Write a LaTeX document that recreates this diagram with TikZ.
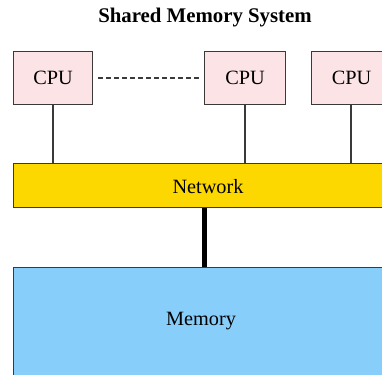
\documentclass[tikz,border=0pt]{standalone}
\usepackage{fontspec}
\setmainfont{Liberation Serif}
\usetikzlibrary{positioning}
\definecolor{cpufill}{HTML}{FCE4E6}
\definecolor{netfill}{HTML}{FCD700}
\definecolor{memfill}{HTML}{87CEFA}
\definecolor{edge}{HTML}{3A3A3A}
\tikzset{
    box/.style={
        draw=edge,
        line width=0.6pt,
        anchor=north west,
        inner sep=0pt
    },
    cpubox/.style={
        box,
        fill=cpufill,
        minimum width=79\unitlength,
        minimum height=53\unitlength,
        font=\fontsize{11.5}{13}\selectfont
    },
    link/.style={
        draw=edge,
        line width=0.6pt
    },
    boxlabel/.style={
        font=\fontsize{11.5}{13}\selectfont
    },
    titlelabel/.style={
        font=\fontsize{11.8}{13}\selectfont\bfseries
    }
}
\setlength{\unitlength}{0.567pt}

\begin{document}
\begin{tikzpicture}[x=\unitlength,y=-\unitlength]

    \useasboundingbox (0,0) rectangle (382,375);
    \clip (0,0) rectangle (382,375);

    % Titre
    \node[titlelabel] (title) at (205,18) {Shared Memory System};

    % Processeurs
    \node[cpubox] (cpuA) at (13,51) {CPU};
    \node[cpubox,minimum width=81\unitlength] (cpuB) at (204,51) {CPU};
    \node[cpubox,minimum width=80\unitlength] (cpuC) at (311,51) {CPU};

    % Reseau
    \node[
        box,
        fill=netfill,
        minimum width=372\unitlength,
        minimum height=44\unitlength
    ]
        (network) at (13,163) {};
    \node[boxlabel] (netlabel) at (208,187) {Network};

    % Memoire
    \node[
        box,
        fill=memfill,
        minimum width=372\unitlength,
        minimum height=112\unitlength
    ]
        (memory) at (13,267) {};
    \node[boxlabel] (memlabel) at (201,321) {Memory};

    % Liaisons
    \draw[link] ([xshift=40\unitlength]cpuA.south west)
        -- ([xshift=40\unitlength]cpuA.south west |- network.north);
    \draw[link] ([xshift=41\unitlength]cpuB.south west)
        -- ([xshift=41\unitlength]cpuB.south west |- network.north);
    \draw[link] ([xshift=40\unitlength]cpuC.south west)
        -- ([xshift=40\unitlength]cpuC.south west |- network.north);

    \draw[link,dashed,dash pattern=on 5\unitlength off 3\unitlength]
        ([xshift=5\unitlength]cpuA.east)
        -- ([xshift=-4\unitlength]cpuB.west);

    \draw[line width=5\unitlength]
        (205,0 |- network.south) -- (205,0 |- memory.north);

\end{tikzpicture}
\end{document}
